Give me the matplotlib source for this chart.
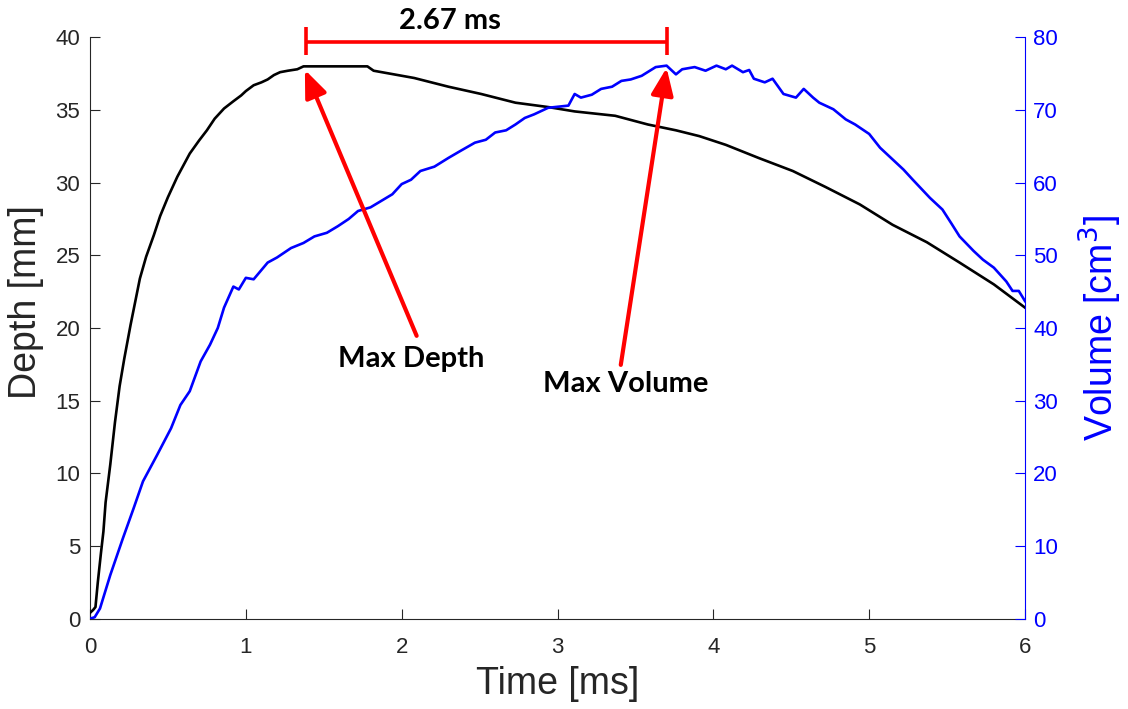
import matplotlib
matplotlib.use("Agg")
import matplotlib.pyplot as plt
from matplotlib.patches import FancyArrowPatch

# ---- data ----
depth_t = [0.0, 0.02, 0.035, 0.05, 0.07, 0.086, 0.10, 0.13, 0.16, 0.19, 0.22, 0.26, 0.29,
           0.32, 0.36, 0.41, 0.45, 0.50, 0.56, 0.60, 0.64, 0.70, 0.75, 0.80, 0.86, 0.92,
           0.97, 1.0, 1.05, 1.10, 1.14, 1.18, 1.22, 1.27, 1.33, 1.37, 1.78, 1.82, 2.08,
           2.30, 2.51, 2.73, 2.94, 3.11, 3.37, 3.58, 3.76, 3.91, 4.08, 4.29, 4.51, 4.72,
           4.94, 5.15, 5.37, 5.58, 5.80, 6.0]
depth_mm = [0.4, 0.6, 0.8, 2.5, 4.5, 6.0, 8.0, 10.6, 13.5, 16.0, 17.9, 20.2, 21.8,
            23.4, 24.9, 26.4, 27.7, 29.0, 30.4, 31.2, 32.0, 32.9, 33.6, 34.4, 35.1, 35.6,
            36.0, 36.3, 36.7, 36.9, 37.1, 37.4, 37.6, 37.7, 37.8, 38.0, 38.0, 37.7, 37.2,
            36.6, 36.1, 35.5, 35.2, 34.9, 34.6, 34.0, 33.6, 33.2, 32.6, 31.7, 30.8, 29.7,
            28.5, 27.1, 25.9, 24.5, 23.0, 21.4]

vol_t = [0.0, 0.03, 0.064, 0.13, 0.21, 0.28, 0.34, 0.43, 0.52, 0.58, 0.64, 0.71, 0.77,
         0.82, 0.86, 0.92, 0.955, 1.0, 1.05, 1.14, 1.20, 1.29, 1.37, 1.44, 1.52, 1.59,
         1.66, 1.72, 1.80, 1.87, 1.94, 2.0, 2.06, 2.12, 2.21, 2.30, 2.38, 2.47, 2.54,
         2.60, 2.67, 2.73, 2.79, 2.85, 2.94, 3.07, 3.11, 3.15, 3.22, 3.28, 3.35, 3.41,
         3.47, 3.54, 3.63, 3.70, 3.76, 3.80, 3.88, 3.95, 4.02, 4.08, 4.12, 4.19, 4.23,
         4.26, 4.33, 4.38, 4.45, 4.53, 4.58, 4.64, 4.68, 4.77, 4.85, 4.91, 5.00, 5.07,
         5.15, 5.22, 5.28, 5.39, 5.47, 5.53, 5.58, 5.67, 5.73, 5.80, 5.88, 5.92, 5.96, 6.0]
vol_cm3 = [0.0, 0.2, 1.4, 6.0, 11.0, 15.2, 18.9, 22.5, 26.2, 29.4, 31.3, 35.4, 37.7,
           40.0, 42.8, 45.7, 45.3, 46.9, 46.7, 49.0, 49.7, 51.0, 51.7, 52.6, 53.1, 54.0,
           55.0, 56.1, 56.6, 57.5, 58.4, 59.8, 60.4, 61.6, 62.2, 63.4, 64.4, 65.5, 65.9,
           66.9, 67.2, 68.0, 68.9, 69.4, 70.3, 70.6, 72.2, 71.7, 72.1, 72.9, 73.2, 74.0,
           74.2, 74.7, 75.9, 76.1, 74.9, 75.6, 75.9, 75.4, 76.1, 75.6, 76.1, 75.2, 75.5,
           74.3, 73.8, 74.3, 72.2, 71.7, 72.9, 71.7, 71.0, 70.1, 68.7, 68.0, 66.7, 64.8,
           63.2, 61.8, 60.4, 57.9, 56.3, 54.3, 52.6, 50.6, 49.4, 48.3, 46.4, 45.1, 45.1, 43.7]

x_ticks = [0, 1, 2, 3, 4, 5, 6]
depth_ticks = [0, 5, 10, 15, 20, 25, 30, 35, 40]
vol_ticks = [0, 10, 20, 30, 40, 50, 60, 70, 80]

t_max_depth = 1.385
t_max_vol = 3.70
interval_label = "2.67 ms"

# ---- figure ----
plt.rcParams['font.family'] = ['Liberation Sans', 'DejaVu Sans']
fig = plt.figure(figsize=(11.28, 7.09), dpi=100)
ax = fig.add_axes([0.0798, 0.1274, 0.8289, 0.8200])
ax2 = ax.twinx()

gray = '#262626'
ax.plot(depth_t, depth_mm, color='black', lw=1.9, zorder=3)
ax2.plot(vol_t, vol_cm3, color='blue', lw=1.9, zorder=3)

ax.set_xlim(0, 6)
ax.set_ylim(0, 40)
ax2.set_ylim(0, 80)
ax.set_xticks(x_ticks)
ax.set_yticks(depth_ticks)
ax2.set_yticks(vol_ticks)

for a in (ax, ax2):
    a.spines['top'].set_visible(False)
ax.spines['left'].set_color(gray)
ax.spines['bottom'].set_color(gray)
ax.spines['right'].set_visible(False)
ax2.spines['left'].set_visible(False)
ax2.spines['bottom'].set_visible(False)
ax2.spines['right'].set_color('blue')
for s in ('left', 'bottom'):
    ax.spines[s].set_linewidth(0.8)
ax2.spines['right'].set_linewidth(0.8)

ax.tick_params(axis='x', direction='in', length=7, width=0.8, colors=gray,
               labelsize=16, pad=13)
ax.tick_params(axis='y', direction='in', length=7, width=0.8, colors=gray,
               labelsize=16, pad=7)
ax2.tick_params(axis='y', direction='in', length=7, width=0.8, colors='blue',
                labelsize=16, pad=6)

ax.set_xlabel('Time [ms]', fontsize=27, color=gray)
ax.set_ylabel('Depth [mm]', fontsize=27, color=gray)
ax2.set_ylabel('Volume [cm$^3$]', fontsize=27, color='blue')
ax.xaxis.set_label_coords(0.5, -0.082)
ax.yaxis.set_label_coords(-0.049, 0.545)
ax2.yaxis.set_label_coords(1.056, 0.50)

# ---- annotations (in depth-axis data coords) ----
red = '#ff0000'
bold = dict(family=['Lato', 'DejaVu Sans'], fontweight='bold', color='black')

bar_y = 39.71
ax.plot([t_max_depth, t_max_vol], [bar_y, bar_y], color=red, lw=2.6, clip_on=False,
        solid_capstyle='butt', zorder=5)
for tx in (t_max_depth, t_max_vol):
    ax.plot([tx, tx], [38.8, 40.7], color=red, lw=2.6, clip_on=False,
            solid_capstyle='butt', zorder=5)
ax.text(2.31, 41.1, interval_label, ha='center', va='center', fontsize=21,
        clip_on=False, **bold)

style = '-|>,head_length=1.1,head_width=0.45'
arr1 = FancyArrowPatch((2.096, 19.46), (1.379, 37.76), arrowstyle=style,
                       mutation_scale=15, color=red, lw=3, shrinkA=0, shrinkB=0, zorder=6)
arr2 = FancyArrowPatch((3.406, 17.46), (3.70, 37.9), arrowstyle=style,
                       mutation_scale=15, color=red, lw=3, shrinkA=0, shrinkB=0, zorder=6)
ax2.add_patch(arr1)
arr1.set_transform(ax.transData)
ax2.add_patch(arr2)
arr2.set_transform(ax.transData)

ax.text(2.058, 17.87, 'Max Depth', ha='center', va='center', fontsize=21, **bold)
ax.text(3.435, 16.15, 'Max Volume', ha='center', va='center', fontsize=21, **bold)

fig.savefig('out.png', dpi=100)
